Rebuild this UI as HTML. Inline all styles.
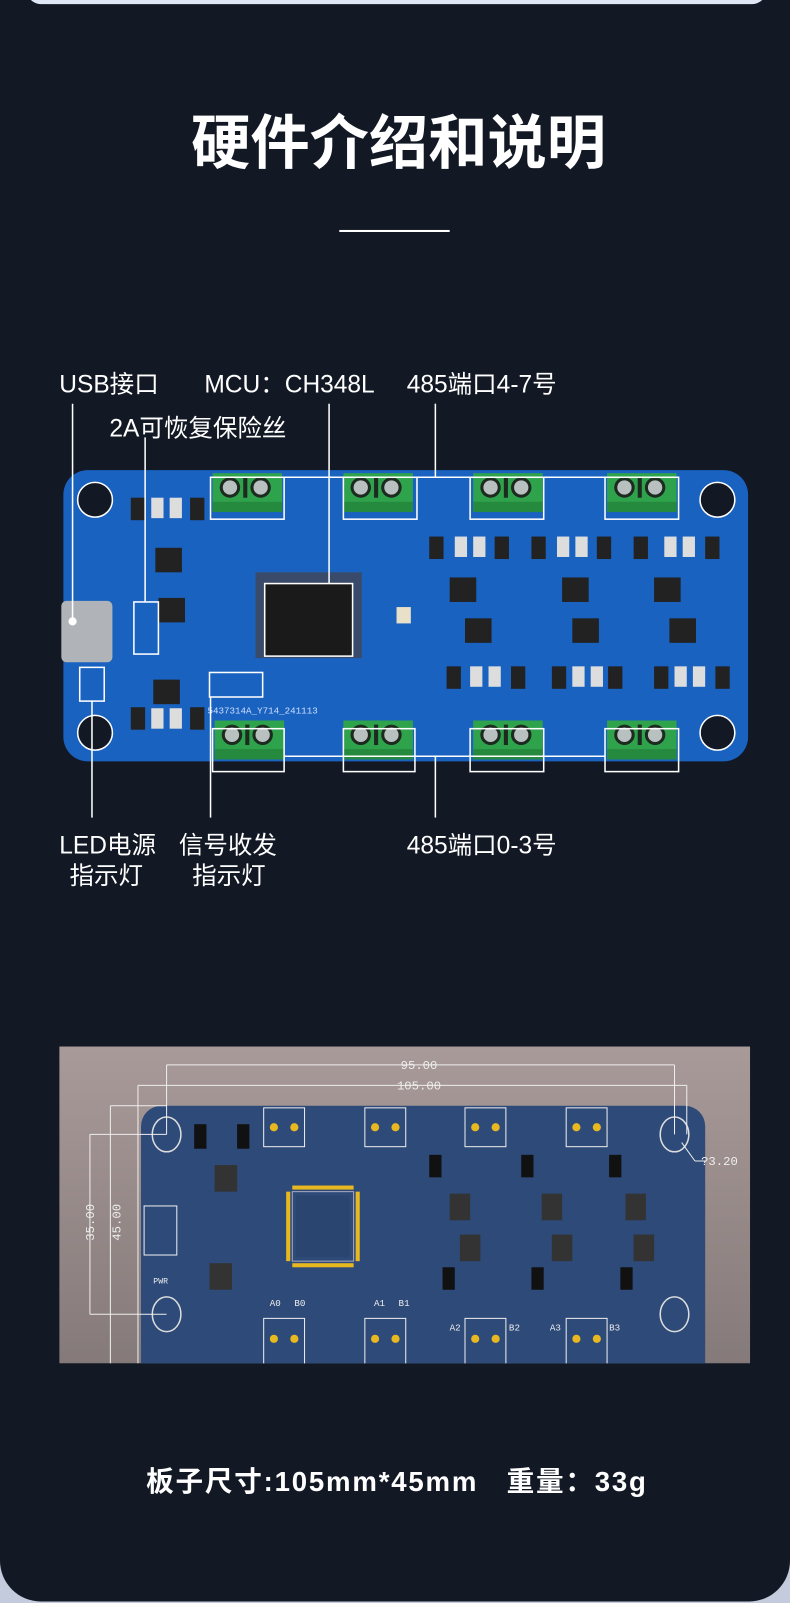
<!DOCTYPE html>
<html><head><meta charset="utf-8"><style>
html,body{margin:0;padding:0;background:#c3cbdc;}
svg{display:block}
</style></head><body>
<svg width="790" height="1603" viewBox="0 0 773 1568.5" preserveAspectRatio="none" xmlns="http://www.w3.org/2000/svg" font-family="Liberation Sans, Noto Sans CJK SC, sans-serif">
<defs>
<linearGradient id="g2" x1="0" y1="0" x2="0" y2="1"><stop offset="0" stop-color="#a89a98"/><stop offset="1" stop-color="#857a7a"/></linearGradient>
<clipPath id="c2"><rect x="58" y="1024" width="676" height="310"/></clipPath>
<g id="term">
<rect x="0" y="0" width="68" height="38" fill="#2fa34c"/>
<rect x="0" y="28" width="68" height="10" fill="#258a3e"/>
<circle cx="17" cy="14" r="10" fill="#1d2a20"/><circle cx="17" cy="14" r="7" fill="#b8c0c0"/>
<circle cx="47" cy="14" r="10" fill="#1d2a20"/><circle cx="47" cy="14" r="7" fill="#b8c0c0"/>
<rect x="30" y="4" width="4" height="20" fill="#1d2a20"/>
</g>
<g id="chip"><rect x="0" y="0" width="26" height="24" fill="#222"/></g>
</defs>
<rect x="0" y="0" width="773" height="1570" fill="#c3cbdc"/>
<rect x="0" y="-40" width="773" height="1607" rx="40" fill="#121824"/>
<rect x="26" y="-30" width="724" height="34" rx="14" fill="#dfe7f4"/>

<text x="390" y="160" fill="#fff" font-size="58" font-weight="bold" text-anchor="middle">硬件介绍和说明</text>
<rect x="332" y="225" width="108" height="2" fill="#fff"/>

<g fill="#fff" font-size="24">
<text x="58" y="384">USB接口</text>
<text x="200" y="384">MCU：CH348L</text>
<text x="398" y="384">485端口4-7号</text>
<text x="107" y="427">2A可恢复保险丝</text>
<text x="58" y="835">LED电源</text>
<text x="68" y="865">指示灯</text>
<text x="175" y="835">信号收发</text>
<text x="188" y="865">指示灯</text>
<text x="398" y="835">485端口0-3号</text>
</g>

<rect x="62" y="460" width="670" height="285" rx="24" fill="#1a62c0"/>
<g fill="#121824" stroke="#fff" stroke-width="1.5">
<circle cx="93" cy="489" r="17"/><circle cx="702" cy="489" r="17"/>
<circle cx="93" cy="717" r="17"/><circle cx="702" cy="717" r="17"/>
</g>
<use href="#term" x="208" y="463"/><use href="#term" x="336" y="463"/><use href="#term" x="463" y="463"/><use href="#term" x="594" y="463"/>
<use href="#term" x="210" y="705"/><use href="#term" x="336" y="705"/><use href="#term" x="463" y="705"/><use href="#term" x="594" y="705"/>
<rect x="60" y="588" width="50" height="60" rx="5" fill="#b0b4b8"/>
<rect x="250" y="560" width="104" height="84" fill="#3a4a6a"/>
<rect x="259" y="571" width="86" height="71" fill="#1a1a1a" stroke="#fff" stroke-width="1.5"/>
<use href="#chip" x="152" y="536"/><use href="#chip" x="155" y="585"/><use href="#chip" x="150" y="665"/>
<use href="#chip" x="440" y="565"/><use href="#chip" x="550" y="565"/><use href="#chip" x="640" y="565"/>
<use href="#chip" x="455" y="605"/><use href="#chip" x="560" y="605"/><use href="#chip" x="655" y="605"/>
<g fill="#222">
<rect x="128" y="487" width="14" height="22"/><rect x="186" y="487" width="14" height="22"/>
<rect x="128" y="692" width="14" height="22"/><rect x="186" y="692" width="14" height="22"/>
<rect x="420" y="525" width="14" height="22"/><rect x="484" y="525" width="14" height="22"/>
<rect x="520" y="525" width="14" height="22"/><rect x="584" y="525" width="14" height="22"/>
<rect x="620" y="525" width="14" height="22"/><rect x="690" y="525" width="14" height="22"/>
<rect x="437" y="652" width="14" height="22"/><rect x="500" y="652" width="14" height="22"/>
<rect x="540" y="652" width="14" height="22"/><rect x="595" y="652" width="14" height="22"/>
<rect x="640" y="652" width="14" height="22"/><rect x="700" y="652" width="14" height="22"/>
</g>
<g fill="#ddd"><rect x="148" y="487" width="12" height="20"/><rect x="166" y="487" width="12" height="20"/><rect x="148" y="693" width="12" height="20"/><rect x="166" y="693" width="12" height="20"/>
<rect x="445" y="525" width="12" height="20"/><rect x="463" y="525" width="12" height="20"/><rect x="545" y="525" width="12" height="20"/><rect x="563" y="525" width="12" height="20"/><rect x="650" y="525" width="12" height="20"/><rect x="668" y="525" width="12" height="20"/>
<rect x="460" y="652" width="12" height="20"/><rect x="478" y="652" width="12" height="20"/><rect x="560" y="652" width="12" height="20"/><rect x="578" y="652" width="12" height="20"/><rect x="660" y="652" width="12" height="20"/><rect x="678" y="652" width="12" height="20"/>
<rect x="388" y="594" width="14" height="16" fill="#e8e0c8"/></g>
<text x="203" y="698" fill="#cfe0ff" font-size="9" font-family="Liberation Mono, monospace">5437314A_Y714_241113</text>

<g fill="none" stroke="#fff" stroke-width="1.5">
<rect x="206" y="467" width="72" height="41"/><rect x="336" y="467" width="72" height="41"/><rect x="460" y="467" width="72" height="41"/><rect x="592" y="467" width="72" height="41"/>
<rect x="208" y="713" width="70" height="42"/><rect x="336" y="713" width="70" height="42"/><rect x="460" y="713" width="72" height="42"/><rect x="592" y="713" width="72" height="42"/>
<line x1="278" y1="467" x2="592" y2="467"/><line x1="278" y1="740" x2="592" y2="740"/>
<rect x="131" y="589" width="24" height="51"/>
<rect x="78" y="653" width="24" height="33"/>
<rect x="205" y="658" width="52" height="24"/>
<line x1="71" y1="395" x2="71" y2="605"/>
<line x1="322" y1="395" x2="322" y2="571"/>
<line x1="426" y1="395" x2="426" y2="467"/>
<line x1="142" y1="428" x2="142" y2="589"/>
<line x1="90" y1="686" x2="90" y2="800"/>
<line x1="206" y1="682" x2="206" y2="800"/>
<line x1="426" y1="740" x2="426" y2="800"/>
</g>
<circle cx="71" cy="608" r="4" fill="#fff"/>

<g clip-path="url(#c2)">
<rect x="58" y="1024" width="676" height="310" fill="url(#g2)"/>
<rect x="138" y="1082" width="552" height="280" rx="20" fill="#2d4a78"/>
<g fill="#2d4a78" stroke="#ddd" stroke-width="1.5">
<ellipse cx="163" cy="1110" rx="14" ry="17"/><ellipse cx="660" cy="1110" rx="14" ry="17"/>
<ellipse cx="163" cy="1286" rx="14" ry="17"/><ellipse cx="660" cy="1286" rx="14" ry="17"/>
</g>
<g fill="none" stroke="#eee" stroke-width="1">
<rect x="258" y="1084" width="40" height="38"/><rect x="357" y="1084" width="40" height="38"/><rect x="455" y="1084" width="40" height="38"/><rect x="554" y="1084" width="40" height="38"/>
<rect x="258" y="1290" width="40" height="50"/><rect x="357" y="1290" width="40" height="50"/><rect x="455" y="1290" width="40" height="50"/><rect x="554" y="1290" width="40" height="50"/>
<rect x="286" y="1166" width="60" height="68" stroke="#aab"/>
<rect x="141" y="1180" width="32" height="48"/>
<line x1="163" y1="1042" x2="660" y2="1042"/><line x1="135" y1="1062" x2="672" y2="1062"/>
<line x1="163" y1="1042" x2="163" y2="1110"/><line x1="660" y1="1042" x2="660" y2="1110"/>
<line x1="135" y1="1062" x2="135" y2="1334"/><line x1="672" y1="1062" x2="672" y2="1110"/>
<line x1="88" y1="1110" x2="163" y2="1110"/><line x1="88" y1="1286" x2="163" y2="1286"/>
<line x1="108" y1="1082" x2="163" y2="1082"/><line x1="108" y1="1082" x2="108" y2="1334"/>
<line x1="88" y1="1110" x2="88" y2="1286"/>
<line x1="667" y1="1118" x2="680" y2="1136"/><line x1="680" y1="1136" x2="690" y2="1136"/>
</g>
<rect x="290" y="1170" width="52" height="60" fill="#2a4570"/>
<g fill="#e8b820">
<rect x="286" y="1160" width="60" height="4"/><rect x="286" y="1236" width="60" height="4"/><rect x="280" y="1166" width="4" height="68"/><rect x="348" y="1166" width="4" height="68"/>
<circle cx="268" cy="1103" r="4"/><circle cx="288" cy="1103" r="4"/><circle cx="367" cy="1103" r="4"/><circle cx="387" cy="1103" r="4"/><circle cx="465" cy="1103" r="4"/><circle cx="485" cy="1103" r="4"/><circle cx="564" cy="1103" r="4"/><circle cx="584" cy="1103" r="4"/>
<circle cx="268" cy="1310" r="4"/><circle cx="288" cy="1310" r="4"/><circle cx="367" cy="1310" r="4"/><circle cx="387" cy="1310" r="4"/><circle cx="465" cy="1310" r="4"/><circle cx="485" cy="1310" r="4"/><circle cx="564" cy="1310" r="4"/><circle cx="584" cy="1310" r="4"/>
</g>
<g fill="#333">
<rect x="210" y="1140" width="22" height="26"/><rect x="205" y="1236" width="22" height="26"/>
<rect x="440" y="1168" width="20" height="26"/><rect x="530" y="1168" width="20" height="26"/><rect x="612" y="1168" width="20" height="26"/>
<rect x="450" y="1208" width="20" height="26"/><rect x="540" y="1208" width="20" height="26"/><rect x="620" y="1208" width="20" height="26"/>
<rect x="190" y="1100" width="12" height="24" fill="#111"/><rect x="232" y="1100" width="12" height="24" fill="#111"/>
<rect x="420" y="1130" width="12" height="22" fill="#111"/><rect x="510" y="1130" width="12" height="22" fill="#111"/><rect x="596" y="1130" width="12" height="22" fill="#111"/>
<rect x="433" y="1240" width="12" height="22" fill="#111"/><rect x="520" y="1240" width="12" height="22" fill="#111"/><rect x="607" y="1240" width="12" height="22" fill="#111"/>
</g>
<g fill="#eee" font-family="Liberation Mono, monospace">
<text x="410" y="1046" text-anchor="middle" font-size="12">95.00</text>
<text x="410" y="1066" text-anchor="middle" font-size="12">105.00</text>
<text x="686" y="1140" font-size="12">?3.20</text>
<text x="92" y="1214" transform="rotate(-90 92 1214)" font-size="12">35.00</text>
<text x="118" y="1214" transform="rotate(-90 118 1214)" font-size="12">45.00</text>
<text x="264" y="1278" font-size="9">A0</text><text x="288" y="1278" font-size="9">B0</text>
<text x="366" y="1278" font-size="9">A1</text><text x="390" y="1278" font-size="9">B1</text>
<text x="440" y="1302" font-size="9">A2</text><text x="498" y="1302" font-size="9">B2</text>
<text x="538" y="1302" font-size="9">A3</text><text x="596" y="1302" font-size="9">B3</text>
<text x="150" y="1256" font-size="8">PWR</text>
</g>
</g>

<text x="143" y="1459" fill="#fff" font-size="27" font-weight="bold" xml:space="preserve" textLength="489" lengthAdjust="spacing">板子尺寸:105mm*45mm   重量：33g</text>
</svg>
</body></html>
